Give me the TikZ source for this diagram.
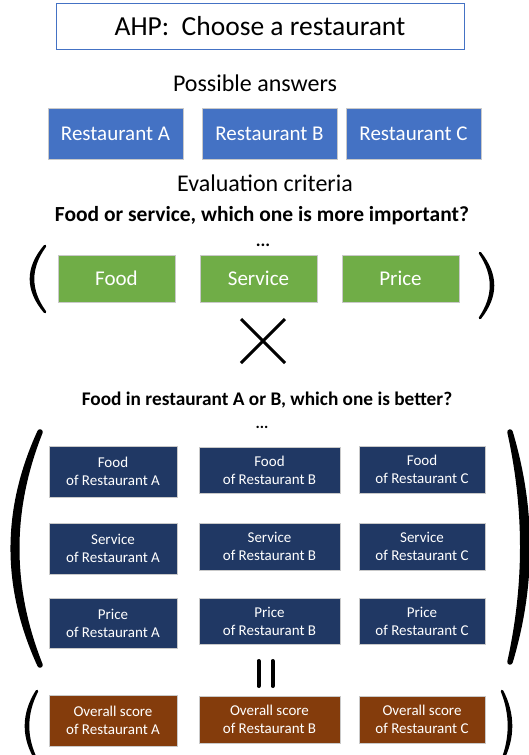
\documentclass[tikz,border=0pt]{standalone}
\usepackage{fontspec}
\setmainfont{Carlito}
\definecolor{ablue}{HTML}{4472C4}
\definecolor{agreen}{HTML}{70AD47}
\definecolor{anavy}{HTML}{203864}
\definecolor{abrown}{HTML}{843C0C}
\definecolor{aedge}{HTML}{C9C9C9}
\tikzset{
  cell/.style={rectangle, inner sep=0pt, draw=aedge, line width=0.8pt, text=white, align=center},
  bigcell/.style={cell, font=\fontsize{21}{25}\selectfont},
  smallcell/.style={cell, font=\fontsize{15}{18}\selectfont},
  labeltext/.style={anchor=base, inner sep=0pt, font=\fontsize{24}{28}\selectfont},
  paren/.style={fill=black, draw=black, line width=2.6pt, line cap=round, line join=round},
  bigparen/.style={fill=black, draw=black, line width=5.5pt, line cap=round, line join=round},
}
\begin{document}
\begin{tikzpicture}[x=1pt, y=-1pt]
\useasboundingbox (0,0) rectangle (529,755);
\clip (0,0) rectangle (529,755);
% title
\node[rectangle, draw=ablue, line width=1pt, minimum width=408pt, minimum height=46pt, inner sep=0pt] (titlebox) at (260,26) {};
\node[anchor=base, inner sep=0pt, font=\fontsize{27.5}{32}\selectfont] (title) at (260,35) {AHP:\ \ Choose a restaurant};
% answers
\node[labeltext] (answers) at (255,91) {Possible answers};
\node[bigcell, fill=ablue, minimum width=135pt, minimum height=51pt] (ra) at (115.5,133.5) {Restaurant A};
\node[bigcell, fill=ablue, minimum width=135pt, minimum height=51pt] (rb) at (269.5,133.5) {Restaurant B};
\node[bigcell, fill=ablue, minimum width=135pt, minimum height=51pt] (rc) at (413.5,133.5) {Restaurant C};
% criteria
\node[labeltext] (criteria) at (265,191) {Evaluation criteria};
\node[anchor=base, inner sep=0pt, font=\fontsize{21.5}{25}\selectfont\bfseries] (q1) at (262,221) {Food or service, which one is more important?};
\node[anchor=base, inner sep=0pt, font=\fontsize{18}{22}\selectfont\bfseries] (dots1) at (263,246) {...};
\node[bigcell, fill=agreen, minimum width=117pt, minimum height=47pt] (food) at (116.5,278.5) {Food};
\node[bigcell, fill=agreen, minimum width=117pt, minimum height=47pt] (service) at (258.5,278.5) {Service};
\node[bigcell, fill=agreen, minimum width=117pt, minimum height=47pt] (price) at (400.5,278.5) {Price};
\path[paren] (45,246) .. controls (26.3,268) and (26.3,290) .. (45,312)
   .. controls (29,290) and (29,268) .. (45,246) -- cycle;
\path[paren] (480,253) .. controls (497.3,275) and (497.3,296) .. (480,318)
   .. controls (494.7,296) and (494.7,275) .. (480,253) -- cycle;
% times
\draw[line width=3pt] (241,319) -- (285,363);
\draw[line width=3pt] (285,319) -- (241,363);
% second question
\node[anchor=base, inner sep=0pt, font=\fontsize{19.3}{23}\selectfont\bfseries] (q2) at (267,405) {Food in restaurant A or B, which one is better?};
\node[anchor=base, inner sep=0pt, font=\fontsize{16}{20}\selectfont\bfseries] (dots2) at (262,428) {...};
% matrix
\node[smallcell, fill=anavy, minimum width=128pt, minimum height=51pt] (fa) at (113,471.5) {Food\\of Restaurant A};
\node[smallcell, fill=anavy, minimum width=141pt, minimum height=46pt] (fb) at (269.5,470) {Food\\of Restaurant B};
\node[smallcell, fill=anavy, minimum width=126pt, minimum height=47pt] (fc) at (422,469.5) {Food\\of Restaurant C};
\node[smallcell, fill=anavy, minimum width=128pt, minimum height=51pt] (sa) at (113,548.5) {Service\\of Restaurant A};
\node[smallcell, fill=anavy, minimum width=141pt, minimum height=47pt] (sb) at (269.5,546.5) {Service\\of Restaurant B};
\node[smallcell, fill=anavy, minimum width=126pt, minimum height=47pt] (sc) at (422,546.5) {Service\\of Restaurant C};
\node[smallcell, fill=anavy, minimum width=128pt, minimum height=50pt] (pa) at (113,623) {Price\\of Restaurant A};
\node[smallcell, fill=anavy, minimum width=141pt, minimum height=46pt] (pb) at (269.5,621) {Price\\of Restaurant B};
\node[smallcell, fill=anavy, minimum width=126pt, minimum height=46pt] (pc) at (422,621) {Price\\of Restaurant C};
\path[bigparen] (40,432) .. controls (4.3,510) and (4.3,587) .. (40,665)
   .. controls (9,587) and (9,510) .. (40,432) -- cycle;
\path[bigparen] (510,432) .. controls (533,509) and (533,585) .. (510,662)
   .. controls (527,585) and (527,509) .. (510,432) -- cycle;
% equals
\draw[line width=4pt, line cap=round] (258.5,661) -- (258.5,686);
\draw[line width=4pt, line cap=round] (272.5,661) -- (272.5,686);
% result
\node[smallcell, fill=abrown, minimum width=128pt, minimum height=51pt] (oa) at (113,720.5) {Overall score\\of Restaurant A};
\node[smallcell, fill=abrown, minimum width=141pt, minimum height=47pt] (ob) at (269.5,719.5) {Overall score\\of Restaurant B};
\node[smallcell, fill=abrown, minimum width=126pt, minimum height=47pt] (oc) at (422,719.5) {Overall score\\of Restaurant C};
\path[paren] (37,691) .. controls (22.3,714) and (22.3,738) .. (37,761)
   .. controls (25,738) and (25,714) .. (37,691) -- cycle;
\path[paren] (502,691) .. controls (514,714) and (514,738) .. (502,761)
   .. controls (511.3,738) and (511.3,714) .. (502,691) -- cycle;
\end{tikzpicture}
\end{document}
